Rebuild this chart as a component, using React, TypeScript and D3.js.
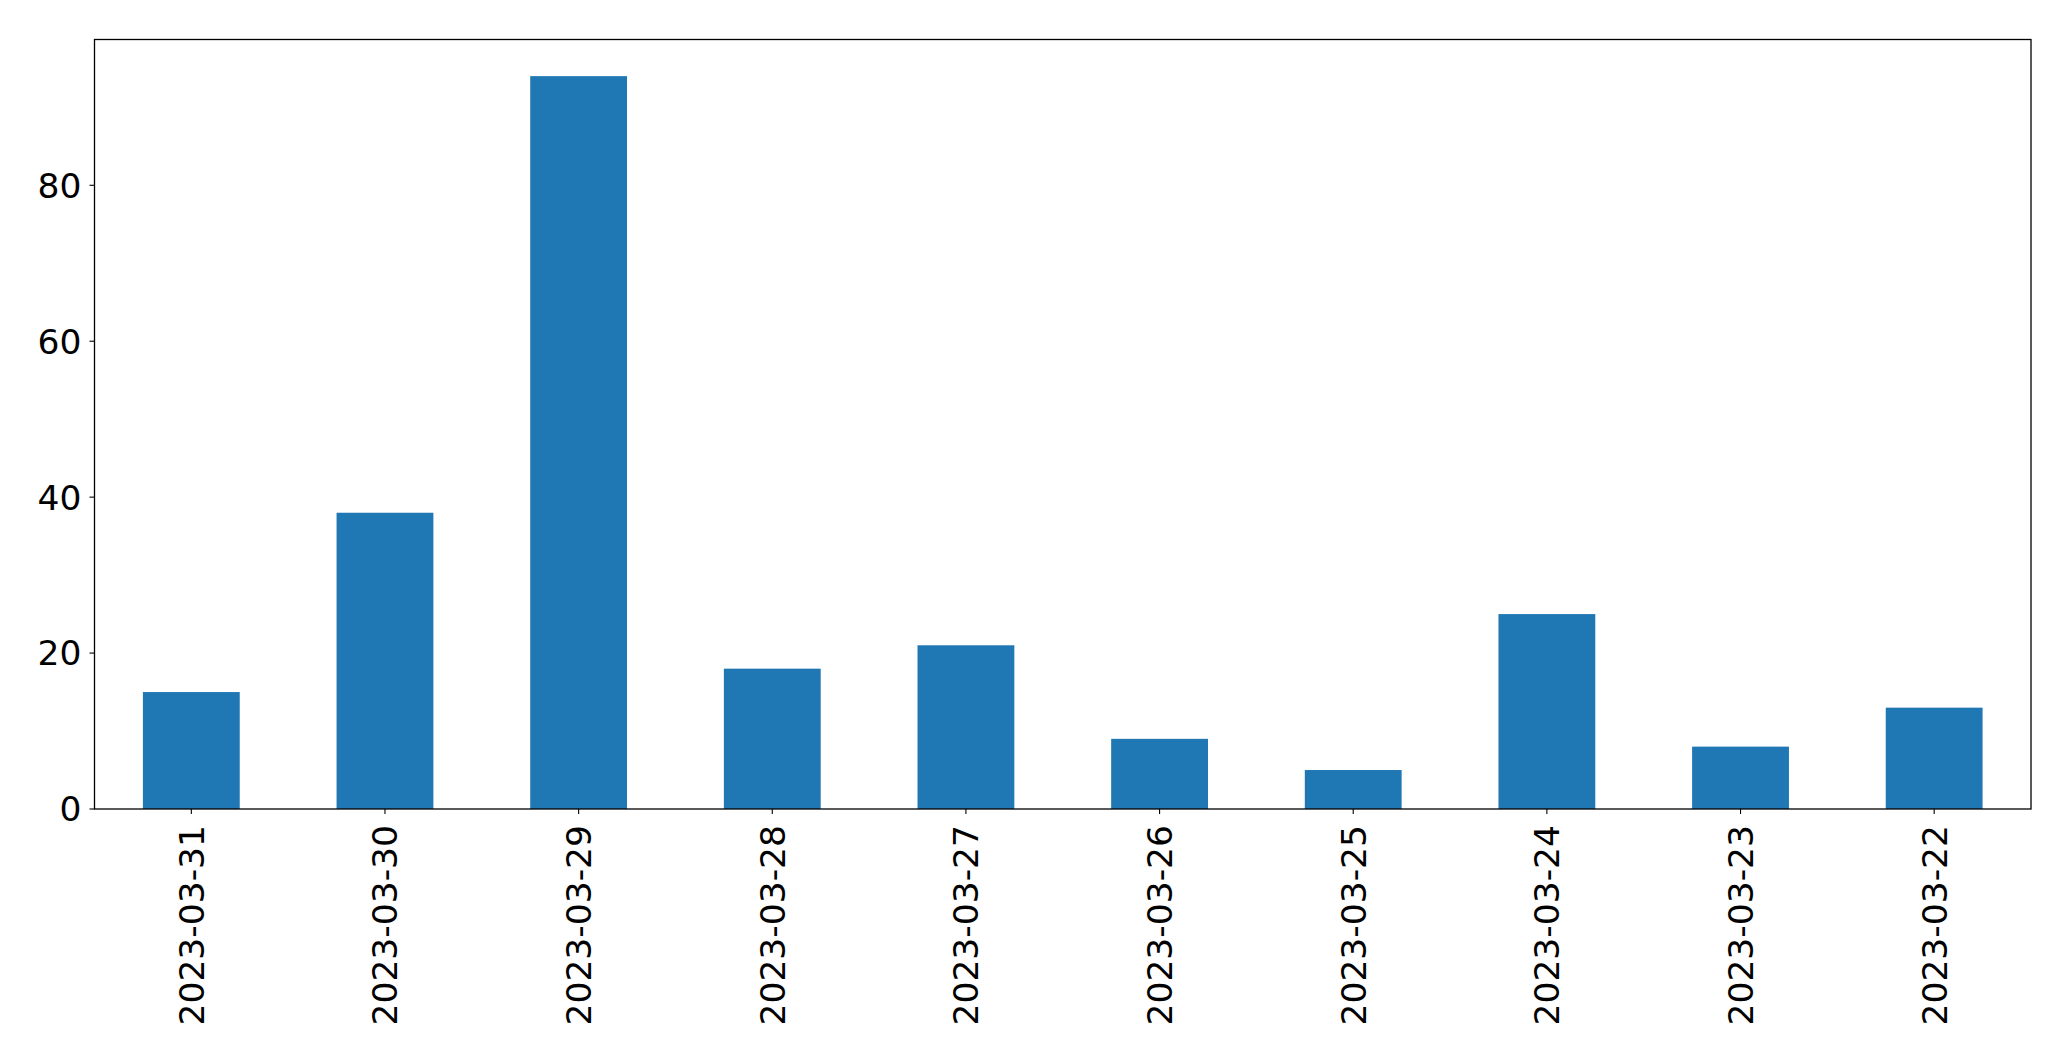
import React, { useRef, useEffect } from "react";
import * as d3 from "d3";

const dates = [
  "2023-03-31", "2023-03-30", "2023-03-29", "2023-03-28", "2023-03-27",
  "2023-03-26", "2023-03-25", "2023-03-24", "2023-03-23", "2023-03-22",
];
const counts = [15, 38, 94, 18, 21, 9, 5, 25, 8, 13];
const yTicks = [0, 20, 40, 60, 80];

const W = 2071;
const H = 1061;
const margin = { top: 39.5, right: 40, bottom: 252, left: 94.5 };
const fontSize = 34.5;

const App = () => {
  const canvas = useRef<SVGSVGElement>(null);

  useEffect(() => {
    const svg = d3.select(canvas.current);
    svg.selectAll("*").remove();

    const width = W - margin.left - margin.right;
    const height = H - margin.top - margin.bottom;

    const xScale = d3.scaleLinear().domain([-0.5, dates.length - 0.5]).range([0, width]);
    const yScale = d3.scaleLinear().domain([0, d3.max(counts)! * 1.05]).range([height, 0]);
    const barW = xScale(0.5) - xScale(0);

    const g = svg.append("g").attr("transform", "translate(" + margin.left + "," + margin.top + ")");

    g.selectAll("rect.bar")
      .data(counts)
      .enter()
      .append("rect")
      .attr("class", "bar")
      .attr("x", (_d, i) => xScale(i) - barW / 2)
      .attr("y", d => yScale(d))
      .attr("width", barW)
      .attr("height", d => yScale(0) - yScale(d))
      .attr("fill", "#1f77b4");

    // frame
    g.append("rect")
      .attr("x", 0).attr("y", 0)
      .attr("width", width).attr("height", height)
      .attr("fill", "none").attr("stroke", "black").attr("stroke-width", 1.3);

    // y ticks
    const yt = g.selectAll("g.ytick").data(yTicks).enter().append("g")
      .attr("transform", d => "translate(0," + yScale(d) + ")");
    yt.append("line").attr("x1", -5).attr("x2", 0).attr("stroke", "black").attr("stroke-width", 1.1);
    yt.append("text")
      .attr("x", -13)
      .attr("dy", "0.36em")
      .attr("text-anchor", "end")
      .style("font-family", "DejaVu Sans")
      .style("font-size", fontSize + "px")
      .text(d => String(d));

    // x ticks
    const xt = g.selectAll("g.xtick").data(dates).enter().append("g")
      .attr("transform", (_d, i) => "translate(" + xScale(i) + "," + height + ")");
    xt.append("line").attr("y1", 0).attr("y2", 5).attr("stroke", "black").attr("stroke-width", 1.1);
    xt.append("text")
      .attr("transform", "translate(0,16) rotate(-90)")
      .attr("dy", "0.36em")
      .attr("text-anchor", "end")
      .style("font-family", "DejaVu Sans")
      .style("font-size", fontSize + "px")
      .text(d => d);
  });

  return (
    <svg ref={canvas} width={W} height={H}
      style={{ position: "absolute", left: 0, top: 0, background: "white" }} />
  );
};

export default App;
